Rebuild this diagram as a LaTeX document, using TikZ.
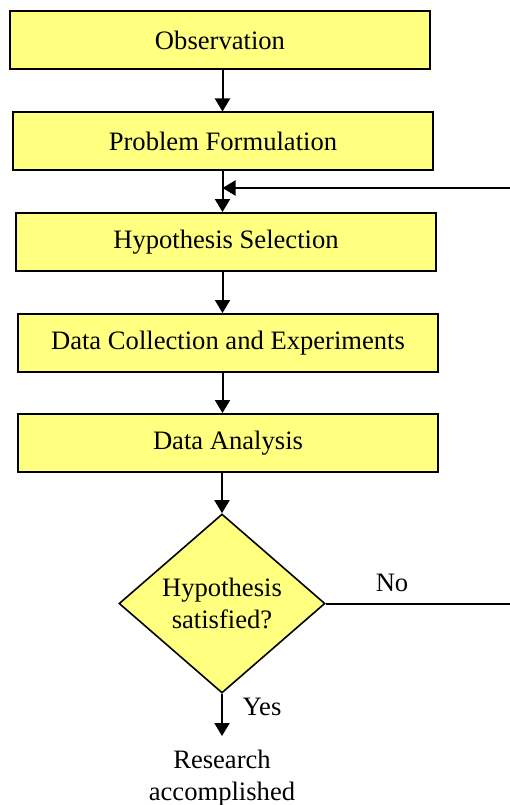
\documentclass[tikz,border=0pt]{standalone}
\usepackage{fontspec}
\setmainfont{Liberation Serif}
\newfontfamily\timesfont{Liberation Serif}
\usetikzlibrary{shapes.geometric,arrows.meta}
\definecolor{boxfill}{RGB}{255,255,128}
\tikzset{
  procbox/.style={draw=black, line width=2pt, fill=boxfill, minimum width=420pt, minimum height=58pt, inner sep=0pt},
  decbox/.style={draw=black, line width=1.6pt, fill=boxfill, diamond, minimum width=206pt, minimum height=179pt, inner sep=0pt, align=center},
  flow/.style={line width=2pt, -{Triangle[length=13pt,width=15pt]}},
  lbl/.style={inner sep=0pt}
}
\begin{document}
\begin{tikzpicture}[x=1pt,y=-1pt, font=\timesfont\fontsize{26.6}{32}\selectfont]
\useasboundingbox (0,0) rectangle (510,805);
\node[procbox] (obs) at (220,40) {Observation};
\node[procbox] (pf) at (223,141.5) {Problem Formulation};
\node[procbox] (hs) at (226,242) {Hypothesis Selection};
\node[procbox] (dc) at (228,343) {Data Collection and Experiments};
\node[procbox] (da) at (228,443) {Data Analysis};
\node[decbox] (dia) at (222,603.5) {Hypothesis\\satisfied?};
\node[lbl, anchor=north, align=center, inner ysep=14pt] (res) at (222,736) {Research\\accomplished};
\node[lbl] (no) at (392,583) {No};
\node[lbl] (yes) at (262,707) {Yes};
\coordinate (j) at (222.5,188);
\coordinate (far) at (514,603.5);

\draw[flow] (obs.south -| j) -- (pf.north -| j);
\draw[flow] (pf.south -| j) -- (hs.north -| j);
\draw[flow] (hs.south -| j) -- (dc.north -| j);
\draw[flow] (dc.south -| j) -- (da.north -| j);
\draw[flow] (da.south -| dia) -- (dia.north);
\draw[flow] (dia.south) -- (res.north);
\draw[flow] (dia.east) -- (dia.east -| far) |- (j);
\end{tikzpicture}
\end{document}
